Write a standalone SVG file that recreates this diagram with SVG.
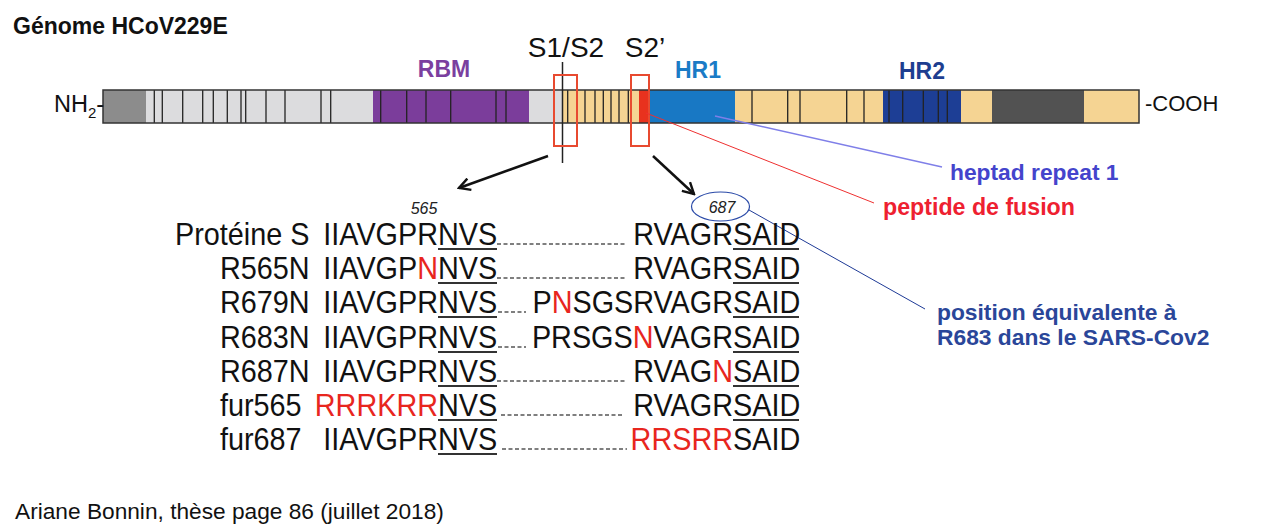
<svg xmlns="http://www.w3.org/2000/svg" width="1264" height="531" viewBox="0 0 1264 531">
<defs>
<style>
text{font-family:"Liberation Sans",Arial,sans-serif;}
.b{font-weight:bold;}
.seq{font-size:32px;fill:#111;}
.r{fill:#e8261e;}
.div{stroke:#222;stroke-width:1.3;}
.dash{stroke:#555;stroke-width:1.3;stroke-dasharray:4 2.5;fill:none;}
.ul{stroke:#333;stroke-width:2;}
.rbox{fill:none;stroke:#e84a30;stroke-width:2;}
</style>
<marker id="ah" viewBox="0 0 14 14" refX="12" refY="7" markerWidth="14" markerHeight="14" markerUnits="userSpaceOnUse" orient="auto">
<polyline points="1,1 12,7 1,13" fill="none" stroke="#111" stroke-width="2.4"/>
</marker>
</defs>
<rect width="1264" height="531" fill="#fff"/>

<text x="13" y="34" class="b" font-size="23" fill="#111">Génome HCoV229E</text>

<g id="bar">
<rect x="103" y="90" width="43" height="33" fill="#8c8c8c"/>
<rect x="146" y="90" width="227" height="33" fill="#dcdcde"/>
<rect x="373" y="90" width="156" height="33" fill="#7b3d9b"/>
<rect x="529" y="90" width="34" height="33" fill="#dcdcde"/>
<rect x="563" y="90" width="76" height="33" fill="#f5d493"/>
<rect x="639" y="90" width="9" height="33" fill="#e8321e"/>
<rect x="648" y="90" width="87" height="33" fill="#1878c4"/>
<rect x="735" y="90" width="148" height="33" fill="#f5d493"/>
<rect x="883" y="90" width="78" height="33" fill="#1d3e95"/>
<rect x="961" y="90" width="31" height="33" fill="#f5d493"/>
<rect x="992" y="90" width="92" height="33" fill="#525252"/>
<rect x="1084" y="90" width="55" height="33" fill="#f5d493"/>
<g class="div">
<line x1="154.3" y1="90" x2="154.3" y2="123"/><line x1="162.3" y1="90" x2="162.3" y2="123"/>
<line x1="182.7" y1="90" x2="182.7" y2="123"/><line x1="202.7" y1="90" x2="202.7" y2="123"/>
<line x1="213.3" y1="90" x2="213.3" y2="123"/><line x1="227.3" y1="90" x2="227.3" y2="123"/>
<line x1="241" y1="90" x2="241" y2="123"/><line x1="245.7" y1="90" x2="245.7" y2="123"/>
<line x1="266" y1="90" x2="266" y2="123"/><line x1="285" y1="90" x2="285" y2="123"/>
<line x1="321" y1="90" x2="321" y2="123"/><line x1="330.7" y1="90" x2="330.7" y2="123"/>
<line x1="380.7" y1="90" x2="380.7" y2="123"/><line x1="406.7" y1="90" x2="406.7" y2="123"/>
<line x1="426" y1="90" x2="426" y2="123"/><line x1="450.7" y1="90" x2="450.7" y2="123"/>
<line x1="496" y1="90" x2="496" y2="123"/><line x1="506" y1="90" x2="506" y2="123"/>
<line x1="567.7" y1="90" x2="567.7" y2="123"/><line x1="585" y1="90" x2="585" y2="123"/>
<line x1="595" y1="90" x2="595" y2="123"/><line x1="603.3" y1="90" x2="603.3" y2="123"/>
<line x1="611" y1="90" x2="611" y2="123"/><line x1="619" y1="90" x2="619" y2="123"/>
<line x1="628.3" y1="90" x2="628.3" y2="123"/>
<line x1="752" y1="90" x2="752" y2="123"/><line x1="787.7" y1="90" x2="787.7" y2="123"/>
<line x1="800" y1="90" x2="800" y2="123"/><line x1="846.7" y1="90" x2="846.7" y2="123"/>
<line x1="864" y1="90" x2="864" y2="123"/><line x1="889" y1="90" x2="889" y2="123"/>
<line x1="902.7" y1="90" x2="902.7" y2="123"/><line x1="923.3" y1="90" x2="923.3" y2="123"/>
<line x1="938.3" y1="90" x2="938.3" y2="123"/><line x1="947.3" y1="90" x2="947.3" y2="123"/>
</g>
<rect x="103" y="90" width="1036" height="33" fill="none" stroke="#333" stroke-width="1.5"/>
<text x="54" y="112" font-size="23.5" fill="#111">NH<tspan font-size="15" dy="6">2</tspan><tspan dy="-6">-</tspan></text>
<text x="1145" y="111" font-size="22" fill="#111">-COOH</text>
</g>

<g id="labels">
<text x="444" y="77" class="b" font-size="23" fill="#7b3f9f" text-anchor="middle">RBM</text>
<text x="698" y="78" class="b" font-size="23" fill="#1b7bc6" text-anchor="middle">HR1</text>
<text x="922" y="79" class="b" font-size="23" fill="#1e3e90" text-anchor="middle">HR2</text>
<text x="566" y="57" font-size="28" fill="#111" text-anchor="middle">S1/S2</text>
<text x="645" y="57" font-size="28" fill="#111" text-anchor="middle">S2’</text>
</g>

<g id="cleavage">
<line x1="562.5" y1="62" x2="562.5" y2="163" stroke="#222" stroke-width="1.5"/>
<rect x="554" y="75" width="23" height="71" class="rbox"/>
<rect x="631" y="75" width="18" height="71" class="rbox"/>
</g>

<g id="connectors">
<line x1="548" y1="156" x2="459" y2="188" stroke="#111" stroke-width="2.5" marker-end="url(#ah)"/>
<line x1="653" y1="156" x2="694" y2="194" stroke="#111" stroke-width="2.5" marker-end="url(#ah)"/>
<line x1="715" y1="116" x2="942" y2="167" stroke="#7f7fe8" stroke-width="1.5"/>
<line x1="646" y1="113" x2="874" y2="203" stroke="#ee3030" stroke-width="1"/>
<line x1="749" y1="210" x2="925" y2="309" stroke="#1e3a96" stroke-width="1"/>
</g>

<g id="annotations">
<text x="950" y="180" class="b" font-size="22.8" fill="#4444cc">heptad repeat 1</text>
<text x="883" y="215" class="b" font-size="23.2" fill="#ee2030">peptide de fusion</text>
<text x="937" y="320" class="b" font-size="22.8" fill="#2a4699">position équivalente à</text>
<text x="937" y="345" class="b" font-size="22.8" fill="#2a4699">R683 dans le SARS-Cov2</text>
</g>

<g id="sequences">
<text x="424" y="214" font-size="16" font-style="italic" fill="#222" text-anchor="middle">565</text>
<ellipse cx="720.5" cy="206.5" rx="29" ry="14.5" fill="none" stroke="#2a4aa8" stroke-width="1.2"/>
<text x="722" y="212.5" font-size="16" font-style="italic" fill="#222" text-anchor="middle">687</text>

<g class="dash">
<line x1="497" y1="244" x2="625" y2="244"/>
<line x1="497" y1="278" x2="625" y2="278"/>
<line x1="498" y1="312" x2="526" y2="312"/>
<line x1="498" y1="347" x2="526" y2="347"/>
<line x1="497" y1="381" x2="625" y2="381"/>
<line x1="501" y1="415" x2="624" y2="415"/>
<line x1="502" y1="449" x2="627" y2="449"/>
</g>

<g transform="scale(0.9 1)">
<!-- row 0 -->
<text x="194.44" y="245" class="seq">Protéine S</text>
<text x="486.67" y="245" class="seq" text-anchor="end">IIAVGPR</text>
<text x="486.67" y="245" class="seq">NVS</text>
<text x="814.44" y="245" class="seq" text-anchor="end">RVAGR</text>
<text x="814.44" y="245" class="seq">SAID</text>
<!-- row 1 -->
<text x="244.44" y="279" class="seq">R565N</text>
<text x="486.67" y="279" class="seq" text-anchor="end">IIAVGP<tspan class="r">N</tspan></text>
<text x="486.67" y="279" class="seq">NVS</text>
<text x="814.44" y="279" class="seq" text-anchor="end">RVAGR</text>
<text x="814.44" y="279" class="seq">SAID</text>
<!-- row 2 -->
<text x="244.44" y="313" class="seq">R679N</text>
<text x="486.67" y="313" class="seq" text-anchor="end">IIAVGPR</text>
<text x="486.67" y="313" class="seq">NVS</text>
<text x="814.44" y="313" class="seq" text-anchor="end">P<tspan class="r">N</tspan>SGSRVAGR</text>
<text x="814.44" y="313" class="seq">SAID</text>
<!-- row 3 -->
<text x="244.44" y="348" class="seq">R683N</text>
<text x="486.67" y="348" class="seq" text-anchor="end">IIAVGPR</text>
<text x="486.67" y="348" class="seq">NVS</text>
<text x="814.44" y="348" class="seq" text-anchor="end">PRSGS<tspan class="r">N</tspan>VAGR</text>
<text x="814.44" y="348" class="seq">SAID</text>
<!-- row 4 -->
<text x="244.44" y="382" class="seq">R687N</text>
<text x="486.67" y="382" class="seq" text-anchor="end">IIAVGPR</text>
<text x="486.67" y="382" class="seq">NVS</text>
<text x="814.44" y="382" class="seq" text-anchor="end">RVAG<tspan class="r">N</tspan></text>
<text x="814.44" y="382" class="seq">SAID</text>
<!-- row 5 -->
<text x="244.44" y="416" class="seq">fur565</text>
<text x="486.67" y="416" class="seq r" text-anchor="end">RRRKRR</text>
<text x="486.67" y="416" class="seq">NVS</text>
<text x="814.44" y="416" class="seq" text-anchor="end">RVAGR</text>
<text x="814.44" y="416" class="seq">SAID</text>
<!-- row 6 -->
<text x="244.44" y="450" class="seq">fur687</text>
<text x="486.67" y="450" class="seq" text-anchor="end">IIAVGPR</text>
<text x="486.67" y="450" class="seq">NVS</text>
<text x="814.44" y="450" class="seq r" text-anchor="end">RRSRR</text>
<text x="814.44" y="450" class="seq">SAID</text>
</g>

<g class="ul">
<line x1="438" y1="249" x2="497" y2="249"/><line x1="733" y1="249" x2="799" y2="249"/>
<line x1="438" y1="283" x2="497" y2="283"/><line x1="733" y1="283" x2="799" y2="283"/>
<line x1="438" y1="317" x2="497" y2="317"/><line x1="733" y1="317" x2="799" y2="317"/>
<line x1="438" y1="352" x2="497" y2="352"/><line x1="733" y1="352" x2="799" y2="352"/>
<line x1="438" y1="386" x2="497" y2="386"/><line x1="733" y1="386" x2="799" y2="386"/>
<line x1="438" y1="420" x2="497" y2="420"/><line x1="733" y1="420" x2="799" y2="420"/>
<line x1="438" y1="454" x2="497" y2="454"/>
</g>
</g>

<text x="15" y="519" font-size="22.7" fill="#111">Ariane Bonnin, thèse page 86 (juillet 2018)</text>
</svg>
